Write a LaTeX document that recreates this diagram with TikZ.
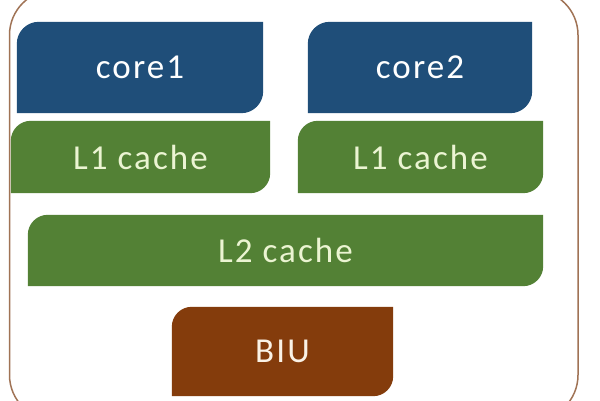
\documentclass[tikz,border=0pt]{standalone}
\usepackage{fontspec}
\setmainfont{Carlito}[LetterSpace=6]
\usetikzlibrary{backgrounds}
\definecolor{coreblue}{RGB}{31,78,121}
\definecolor{cachegreen}{RGB}{83,129,53}
\definecolor{biubrown}{RGB}{132,60,12}
\definecolor{framebrown}{RGB}{160,115,85}
\definecolor{cachetext}{RGB}{235,244,210}
\definecolor{biutext}{RGB}{250,242,230}
\tikzset{
  blk/.style={inner sep=0pt, font=\fontsize{35}{40}\selectfont},
  coreblk/.style={blk, text=white},
  cacheblk/.style={blk, text=cachetext},
  biublk/.style={blk, text=biutext},
}
\newcommand{\diagfill}[3]{%
  \fill[#2] (#1.south west) -- ([yshift=-#3]#1.north west)
    arc[start angle=180, end angle=90, radius=#3] -- (#1.north east)
    -- ([yshift=#3]#1.south east)
    arc[start angle=0, end angle=-90, radius=#3] -- cycle;}
\begin{document}
\begin{tikzpicture}[x=1pt,y=1pt]
\useasboundingbox (0,0) rectangle (600,400);
\clip (0,0) rectangle (600,400);
\node[coreblk, minimum width=246pt, minimum height=91pt] (c1) at (140,332.5) {core1};
\node[coreblk, minimum width=224pt, minimum height=91pt] (c2) at (420,332.5) {core2};
\node[cacheblk, minimum width=259pt, minimum height=72pt] (l1a) at (140.5,243) {L1 cache};
\node[cacheblk, minimum width=245pt, minimum height=72pt] (l1b) at (420.5,243) {L1 cache};
\node[cacheblk, minimum width=515pt, minimum height=71pt] (l2) at (285.5,149.5) {L2 cache};
\node[biublk, minimum width=221pt, minimum height=89pt] (biu) at (282.5,48.5) {BIU};
\begin{scope}[on background layer]
\fill[white] (0,0) rectangle (600,400);
\draw[framebrown, line width=1.5pt, rounded corners=45pt] (9.5,-20) rectangle (578,410);
\diagfill{c1}{coreblue}{22pt}
\diagfill{c2}{coreblue}{22pt}
\diagfill{l1a}{cachegreen}{20pt}
\diagfill{l1b}{cachegreen}{20pt}
\diagfill{l2}{cachegreen}{20pt}
\diagfill{biu}{biubrown}{20pt}
\end{scope}
\end{tikzpicture}
\end{document}
